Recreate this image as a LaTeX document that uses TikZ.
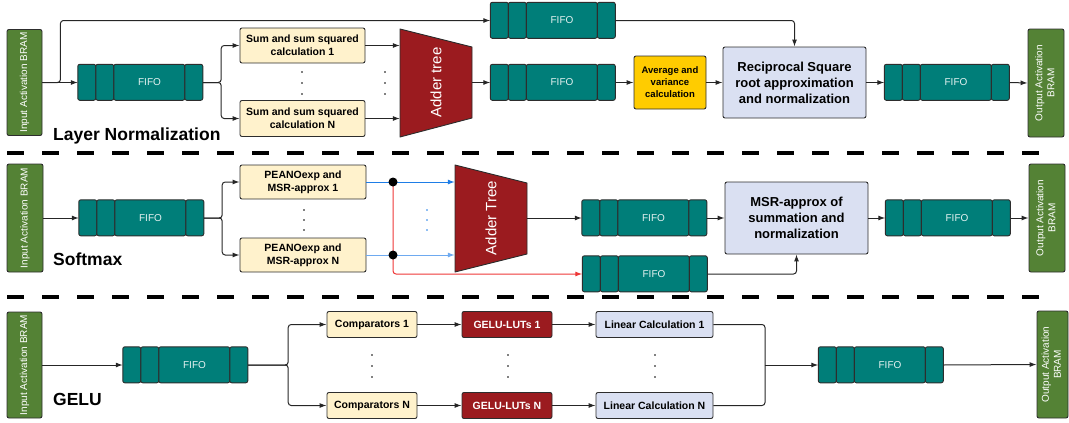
\documentclass[tikz,border=0pt]{standalone}
\usepackage{fontspec}
\setmainfont{Liberation Sans}
\usetikzlibrary{arrows.meta}
\definecolor{bramGreen}{RGB}{84,130,53}
\definecolor{fifoTeal}{RGB}{0,126,121}
\definecolor{adderRed}{RGB}{155,27,31}
\definecolor{calcYellow}{RGB}{255,242,204}
\definecolor{avgGold}{RGB}{255,204,0}
\definecolor{normBlue}{RGB}{218,224,242}
\definecolor{edgeGray}{RGB}{45,45,45}
\definecolor{sumBlue}{RGB}{30,125,230}
\definecolor{sumBlueLight}{RGB}{110,170,240}
\definecolor{bypassRed}{RGB}{238,55,55}
\newcommand{\fifoBlock}[3]{%
  \node[fifoStyle] (#1) at (#2,#3) {};
  \foreach \a/\w in {0/18,18/18,36/71,107/18}
    \draw[fifoSeg] ([xshift=\a pt]#1.north west) rectangle ++(\w,36);
  \node[fifoText] (#1t) at ([xshift=9pt]#1.center) {FIFO};
}
\newcommand{\outLabel}{\rotatebox{90}{\begin{tabular}{@{}c@{}}Output Activation\\BRAM\end{tabular}}}

\begin{document}
\begin{tikzpicture}[x=1pt, y=-1pt, font=\fontsize{10}{12}\selectfont]
	\tikzstyle{bramStyle}=[draw=edgeGray, fill=bramGreen, rounded corners=2pt, line width=0.9pt, text=white, inner sep=0, minimum width=35pt, minimum height=106pt]
	\tikzstyle{fifoStyle}=[minimum width=125pt, minimum height=36pt, inner sep=0]
	\tikzstyle{fifoSeg}=[draw=edgeGray, fill=fifoTeal, rounded corners=2pt, line width=0.9pt]
	\tikzstyle{fifoText}=[text=white!90!fifoTeal, inner sep=0]
	\tikzstyle{boxStyle}=[draw=edgeGray, rounded corners=2pt, line width=0.9pt, align=center, inner sep=0, text=black]
	\tikzstyle{calcStyle}=[boxStyle, fill=calcYellow, font=\fontsize{10.5}{13}\selectfont\bfseries]
	\tikzstyle{normStyle}=[boxStyle, fill=normBlue, font=\fontsize{13}{16}\selectfont\bfseries, minimum width=143pt, minimum height=71pt]
	\tikzstyle{lutStyle}=[boxStyle, fill=adderRed, text=white, font=\fontsize{10.5}{13}\selectfont\bfseries, minimum width=90pt, minimum height=26pt]
	\tikzstyle{linStyle}=[boxStyle, fill=normBlue, font=\fontsize{10.5}{13}\selectfont\bfseries, minimum width=117pt, minimum height=26pt]
	\tikzstyle{adderStyle}=[draw=edgeGray, fill=adderRed, line width=0.9pt, line join=round]
	\tikzstyle{adderText}=[text=white, font=\fontsize{15}{18}\selectfont, inner sep=0, minimum width=72pt]
	\tikzstyle{titleStyle}=[font=\fontsize{17.5}{20}\selectfont\bfseries, anchor=base west, inner sep=0]
	\tikzstyle{wire}=[color=black!85, line width=1pt, rounded corners=3pt]
	\tikzstyle{arr}=[wire, -{Latex[length=7pt,width=5pt]}]
	\tikzstyle{junction}=[circle, fill=black, inner sep=0, minimum size=9pt]
	\tikzstyle{sepStyle}=[line width=4pt, dash pattern=on 17pt off 18pt]
	\useasboundingbox (0,0) rectangle (1069,423);

	\node[bramStyle] (inLn) at (24.5,82.5) {\rotatebox{90}{Input Activation BRAM}};
	\fifoBlock{fifoLn}{140.5}{82.5}
	\fifoBlock{fifoTop}{553}{20.5}
	\node[calcStyle, minimum width=125pt, minimum height=35pt] (sumOne) at (302.5,45.5) {Sum and sum squared\\calculation 1};
	\node[calcStyle, minimum width=125pt, minimum height=36pt] (sumN) at (302.5,118.5) {Sum and sum squared\\calculation N};
	\draw[adderStyle] (400,29) -- (472,47) -- (472,118) -- (400,137) -- cycle;
	\node[adderText] (adderLn) at (436,82.5) {\rotatebox{90}{Adder tree}};
	\fifoBlock{fifoSum}{553}{82.5}
	\node[boxStyle, fill=avgGold, font=\fontsize{9.5}{12}\selectfont\bfseries, minimum width=72pt, minimum height=53pt] (avgVar) at (670,82.5) {Average and\\variance\\calculation};
	\node[normStyle] (rsqrt) at (794.5,82.5) {Reciprocal Square\\root approximation\\and normalization};
	\fifoBlock{fifoLnOut}{947}{82.5}
	\node[bramStyle, minimum width=36pt, minimum height=108pt] (outLn) at (1046,83) {\outLabel};
	\draw[arr] (inLn.east) -- (fifoLn.west);
	\draw[arr] (inLn.east) -- ++(18,0) |- (fifoTop.west);
	\draw[arr] (fifoLn.east) -- ++(18,0) |- (sumOne.west);
	\draw[arr] (fifoLn.east) -- ++(18,0) |- (sumN.west);
	\draw[arr] (sumOne.east) -- (sumOne.east -| adderLn.west);
	\draw[arr] (sumN.east) -- (sumN.east -| adderLn.west);
	\draw[arr] (adderLn.east) -- (fifoSum.west);
	\draw[arr] (fifoSum.east) -- (avgVar.west);
	\draw[arr] (avgVar.east) -- (rsqrt.west);
	\draw[arr] (fifoTop.east) -| (rsqrt.north);
	\draw[arr] (rsqrt.east) -- (fifoLnOut.west);
	\draw[arr] (fifoLnOut.east) -- (outLn.west);
	\foreach \y in {72,83,94} {\fill (302,\y) circle (0.8pt); \fill (385,\y) circle (0.8pt);}
	\node[titleStyle] (titleLn) at (53,140) {Layer Normalization};

	\draw[sepStyle] (7,153) -- (1053,153);

	\node[bramStyle, minimum width=36pt, minimum height=108pt] (inSm) at (25,218) {\rotatebox{90}{Input Activation BRAM}};
	\fifoBlock{fifoSm}{141.5}{218}
	\node[calcStyle, minimum width=126pt, minimum height=34pt] (peanoOne) at (303,182) {PEANOexp and\\MSR-approx 1};
	\node[calcStyle, minimum width=126pt, minimum height=34pt] (peanoN) at (303,255) {PEANOexp and\\MSR-approx N};
	\coordinate (jnOne) at (393,182);
	\coordinate (jnN) at (393,255);
	\draw[adderStyle] (455,165) -- (527,183) -- (527,254) -- (455,272) -- cycle;
	\node[adderText] (adderSm) at (491,218) {\rotatebox{90}{Adder Tree}};
	\fifoBlock{fifoSmA}{644.5}{218}
	\fifoBlock{fifoSmB}{645}{274}
	\node[normStyle, minimum height=72pt] (msr) at (796.5,218) {MSR-approx of\\summation and\\normalization};
	\fifoBlock{fifoSmOut}{948}{218}
	\node[bramStyle, minimum width=36pt, minimum height=108pt] (outSm) at (1047,218) {\outLabel};
	\draw[arr] (inSm.east) -- (fifoSm.west);
	\draw[arr] (fifoSm.east) -- ++(18,0) |- (peanoOne.west);
	\draw[arr] (fifoSm.east) -- ++(18,0) |- (peanoN.west);
	\draw[wire, sumBlue] (peanoOne.east) -- (jnOne);
	\draw[arr, sumBlue] (jnOne) -- (jnOne -| adderSm.west);
	\draw[wire, sumBlueLight] (peanoN.east) -- (jnN);
	\draw[arr, sumBlueLight] (jnN) -- (jnN -| adderSm.west);
	\draw[arr, bypassRed] (jnOne) |- (fifoSmB.west);
	\node[junction] (jnOneDot) at (jnOne) {};
	\node[junction] (jnNDot) at (jnN) {};
	\draw[arr] (adderSm.east) -- (fifoSmA.west);
	\draw[arr] (fifoSmA.east) -- (msr.west);
	\draw[arr] (fifoSmB.east) -| (msr.south);
	\draw[arr] (msr.east) -- (fifoSmOut.west);
	\draw[arr] (fifoSmOut.east) -- (outSm.west);
	\foreach \y in {210,220,230} {\fill (304,\y) circle (0.8pt); \fill[sumBlue] (427,\y) circle (0.8pt);}
	\node[titleStyle] (titleSm) at (53,265) {Softmax};

	\draw[sepStyle] (7,297) -- (1053,297);

	\node[bramStyle] (inGe) at (24.5,365) {\rotatebox{90}{Input Activation BRAM}};
	\fifoBlock{fifoGe}{185.5}{365}
	\node[calcStyle, minimum width=90pt, minimum height=26pt] (cmpOne) at (372,324.5) {Comparators 1};
	\node[calcStyle, minimum width=90pt, minimum height=26pt] (cmpN) at (372,405.5) {Comparators N};
	\node[lutStyle] (lutOne) at (507,324.5) {GELU-LUTs 1};
	\node[lutStyle] (lutN) at (507,405.5) {GELU-LUTs N};
	\node[linStyle] (linOne) at (654.5,324.5) {Linear Calculation 1};
	\node[linStyle] (linN) at (654.5,405.5) {Linear Calculation N};
	\coordinate (geMerge) at (765,365);
	\fifoBlock{fifoGeOut}{881}{365}
	\node[bramStyle, minimum width=31pt, minimum height=107pt] (outGe) at (1052.5,364.5) {\outLabel};
	\draw[arr] (inGe.east) -- (fifoGe.west);
	\draw[arr] (fifoGe.east) -- ++(40,0) |- (cmpOne.west);
	\draw[arr] (fifoGe.east) -- ++(40,0) |- (cmpN.west);
	\draw[arr] (cmpOne) -- (lutOne);
	\draw[arr] (cmpN) -- (lutN);
	\draw[arr] (lutOne) -- (linOne);
	\draw[arr] (lutN) -- (linN);
	\draw[wire] (linOne.east) -| (geMerge);
	\draw[wire] (linN.east) -| (geMerge);
	\draw[arr] (geMerge) -- (fifoGeOut.west);
	\draw[arr] (fifoGeOut.east) -- (outGe.west);
	\foreach \y in {355,366,377} {\fill (372,\y) circle (0.8pt); \fill (508,\y) circle (0.8pt); \fill (655,\y) circle (0.8pt);}
	\node[titleStyle] (titleGe) at (53,405) {GELU};
\end{tikzpicture}
\end{document}
